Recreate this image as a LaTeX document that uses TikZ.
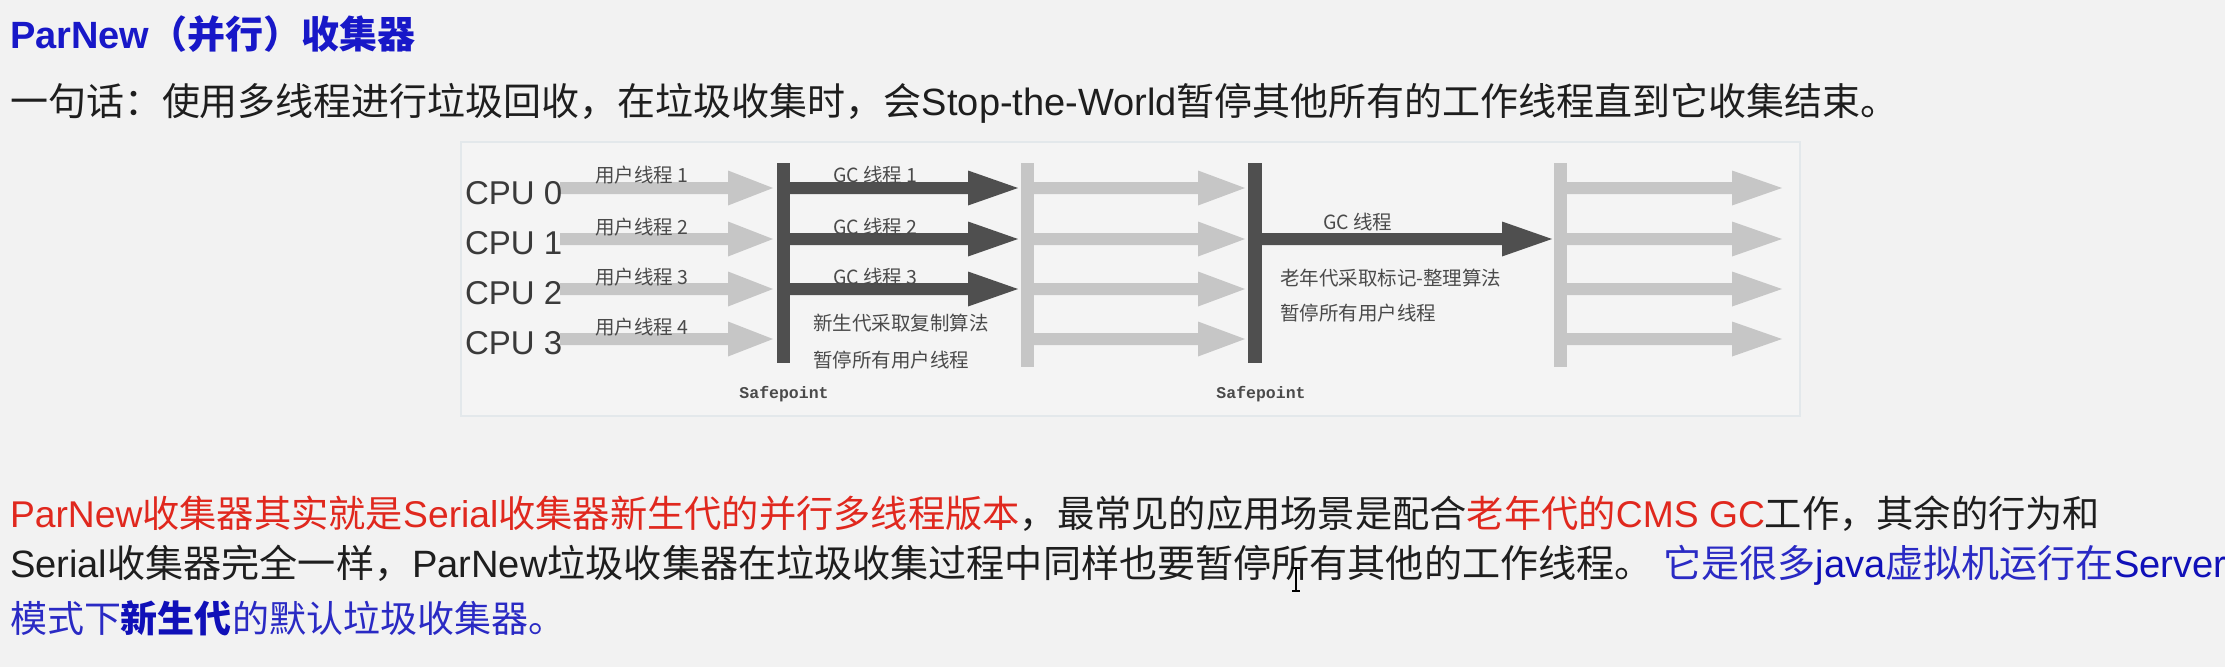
\documentclass[tikz,border=0pt]{standalone}
\usepackage{fontspec}
\setmainfont{Liberation Sans}
\newfontfamily\zh{Noto Sans CJK SC}
\newfontfamily\mono{Liberation Mono}
\usetikzlibrary{calc}
\definecolor{pagebg}{HTML}{F2F2F2}
\definecolor{framebg}{HTML}{F4F4F4}
\definecolor{framecol}{HTML}{E3E8EB}
\definecolor{lightgc}{HTML}{C6C6C6}
\definecolor{darkgc}{HTML}{4F4F4F}
\definecolor{diagtext}{HTML}{3A3A3A}
\definecolor{labtext}{HTML}{4A4A4A}
\definecolor{titleblue}{HTML}{1818C8}
\definecolor{noteblue}{HTML}{2A2AC4}
\definecolor{deepblue}{HTML}{1010B8}
\definecolor{notered}{HTML}{E0281E}
\definecolor{bodytext}{HTML}{1E1E1E}
% fat arrow: start coordinate, tip coordinate, colour, head length
\newcommand\fatarrow[4]{%
  \fill[#3] ($(#1)+(0,-6)$) -- ($(#2)+(-#4,-6)$) -- ($(#2)+(-#4,-17.5)$) -- (#2)
    -- ($(#2)+(-#4,17.5)$) -- ($(#2)+(-#4,6)$) -- ($(#1)+(0,6)$) -- cycle;}
\begin{document}
\begin{tikzpicture}[x=1pt,y=-1pt,
  every node/.style={inner sep=0pt, outer sep=0pt},
  bodyline/.style={anchor=base west, font=\fontsize{#1}{44}\selectfont, text=bodytext},
  bodyline/.default=37,
  cputext/.style={anchor=base west, font=\fontsize{33}{40}\selectfont, text=diagtext},
  lab/.style={anchor=base west, font=\fontsize{19.5}{23}\selectfont\zh, text=labtext},
  safe/.style={anchor=base, font=\fontsize{16.5}{20}\selectfont\mono\bfseries, text=labtext},
]
\useasboundingbox (0,0) rectangle (2225,667);
\fill[pagebg] (0,0) rectangle (2225,667);

% ---- text above ----
\node[bodyline=38, text=titleblue] (title) at (10,48) {\bfseries ParNew{\zh （并行）收集器}};
\node[bodyline=38] (line2) at (10,115) {{\zh 一句话：使用多线程进行垃圾回收，在垃圾收集时，会}Stop-the-World{\zh 暂停其他所有的工作线程直到它收集结束。}};

% ---- diagram frame ----
\draw[framecol, fill=framebg, line width=1.5pt] (461,142) rectangle (1800,416);

% rows
\foreach \i/\y in {0/188,1/239,2/289,3/339}{
  \coordinate (a\i) at (560,\y);
  \coordinate (at\i) at (773,\y);
  \coordinate (c\i) at (1033,\y);
  \coordinate (ct\i) at (1245,\y);
  \coordinate (e\i) at (1566,\y);
  \coordinate (et\i) at (1782,\y);
}
\foreach \i/\y in {0/188,1/239,2/289}{
  \coordinate (g\i) at (789,\y);
  \coordinate (gt\i) at (1018,\y);
}
\coordinate (og) at (1261,239);
\coordinate (ogt) at (1552,239);

% bars
\fill[darkgc] (777,163) rectangle (790,363);
\fill[lightgc] (1021,163) rectangle (1034,367);
\fill[darkgc] (1248,163) rectangle (1262,363);
\fill[lightgc] (1554,163) rectangle (1567,367);

% arrows
\foreach \i in {0,1,2,3}{
  \fatarrow{a\i}{at\i}{lightgc}{45}
  \fatarrow{c\i}{ct\i}{lightgc}{47}
  \fatarrow{e\i}{et\i}{lightgc}{50}
}
\foreach \i in {0,1,2}{
  \fatarrow{g\i}{gt\i}{darkgc}{50}
}
\fatarrow{og}{ogt}{darkgc}{50}

% CPU labels
\node[cputext] (cpu0) at (465,204) {CPU 0};
\node[cputext] (cpu1) at (465,254) {CPU 1};
\node[cputext] (cpu2) at (465,304) {CPU 2};
\node[cputext] (cpu3) at (465,354) {CPU 3};

% user thread labels
\node[lab] (u1) at (595,182) {用户线程 1};
\node[lab] (u2) at (595,234) {用户线程 2};
\node[lab] (u3) at (595,284) {用户线程 3};
\node[lab] (u4) at (595,334) {用户线程 4};

% gc thread labels
\node[lab] (gc1) at (833,182) {GC 线程 1};
\node[lab] (gc2) at (833,234) {GC 线程 2};
\node[lab] (gc3) at (833,284) {GC 线程 3};
\node[lab] (young1) at (813,330) {新生代采取复制算法};
\node[lab] (young2) at (813,367) {暂停所有用户线程};

\node[lab] (gco) at (1323,229) {GC 线程};
\node[lab] (old1) at (1280,285) {老年代采取标记-整理算法};
\node[lab] (old2) at (1280,320) {暂停所有用户线程};

\node[safe] (sp1) at (784,398) {Safepoint};
\node[safe] (sp2) at (1261,398) {Safepoint};

% ---- text below ----
\node[bodyline=37.25] (line3) at (10,527) {\textcolor{notered}{ParNew{\zh 收集器其实就是}Serial{\zh 收集器新生代的并行多线程版本}}{\zh ，最常见的应用场景是配合}\textcolor{notered}{{\zh 老年代的}CMS GC}{\zh 工作，其余的行为和}};
\node[bodyline=38.1] (line4) at (10,577) {Serial{\zh 收集器完全一样，}ParNew{\zh 垃圾收集器在垃圾收集过程中同样也要暂停所有其他的工作线程。} \textcolor{noteblue}{{\zh 它是很多}\textcolor{deepblue}{java}{\zh 虚拟机运行在}\textcolor{deepblue}{Server}}};
\node[bodyline=37, text=noteblue] (line5) at (10,632) {{\zh 模式下}\textcolor{deepblue}{\zh\bfseries 新生代}{\zh 的默认垃圾收集器。}};

% text cursor (I-beam) seen in the screenshot
\draw[black, line width=1.2pt] (1296,569) -- (1296,590)
  (1292,568) -- (1300,568) (1292,591) -- (1300,591);
\end{tikzpicture}
\end{document}
